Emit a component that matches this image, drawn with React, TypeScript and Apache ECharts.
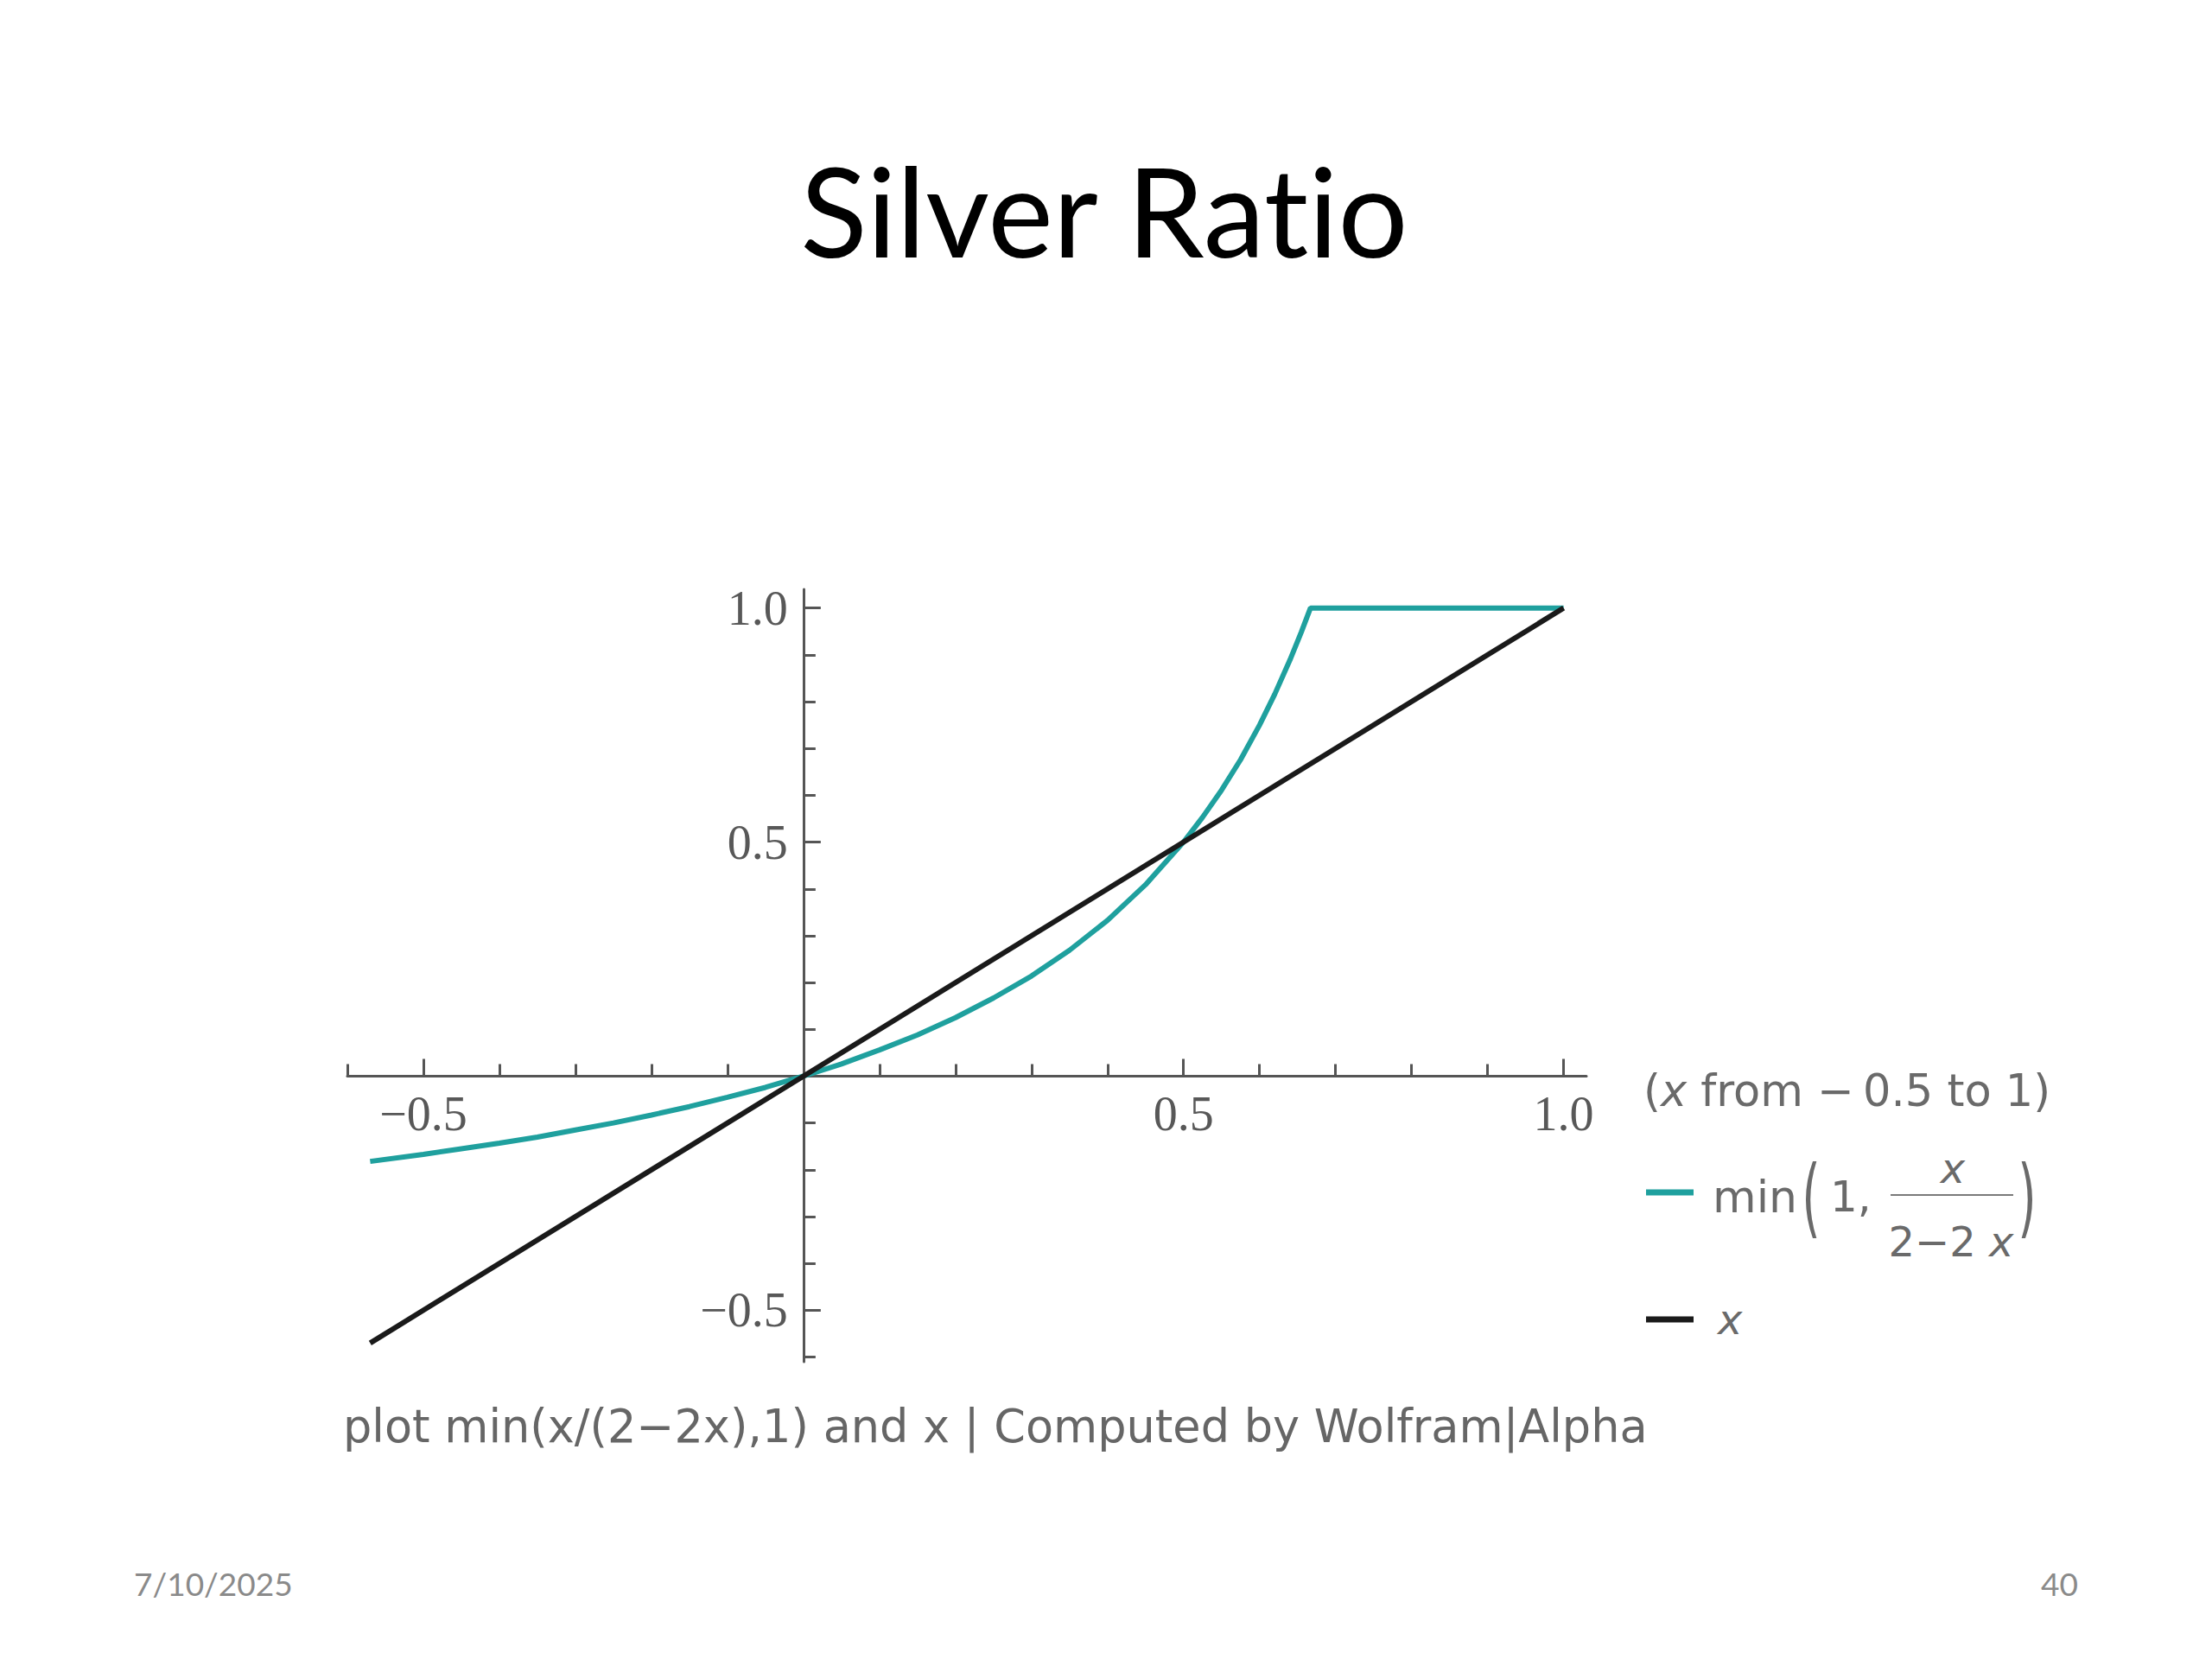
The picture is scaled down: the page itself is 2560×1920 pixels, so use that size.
import React, { useEffect, useRef } from "react";
import * as echarts from "echarts";

// ---- data ----
const TITLE = "Silver Ratio";
const CAPTION = "plot min(x/(2\u22122x),1) and x | Computed by Wolfram|Alpha";
const DATE_TEXT = "7/10/2025";
const PAGE_NO = "40";

const X_MIN = -0.6;
const X_MAX = 1.03;
const Y_MIN = -0.61;
const Y_MAX = 1.04;

const MAJOR_TICKS = [-0.5, 0.5, 1.0];
const MINOR_TICKS_X = [-0.6, -0.4, -0.3, -0.2, -0.1, 0.1, 0.2, 0.3, 0.4, 0.6, 0.7, 0.8, 0.9];
const MINOR_TICKS_Y = [-0.6, -0.4, -0.3, -0.2, -0.1, 0.1, 0.2, 0.3, 0.4, 0.6, 0.7, 0.8, 0.9];

// teal curve: min(1, x/(2-2x))
const CURVE_X = [-0.57, -0.5, -0.45, -0.4, -0.35, -0.3, -0.25, -0.2, -0.15, -0.1, -0.05, 0, 0.05, 0.1, 0.15, 0.2, 0.25, 0.3, 0.35, 0.4, 0.45, 0.5, 0.525, 0.55, 0.575, 0.6, 0.62, 0.64, 0.655, 0.667, 1.0];
const CURVE_Y = [-0.182, -0.167, -0.155, -0.143, -0.130, -0.115, -0.100, -0.083, -0.065, -0.045, -0.024, 0, 0.026, 0.056, 0.088, 0.125, 0.167, 0.214, 0.269, 0.333, 0.409, 0.5, 0.553, 0.611, 0.676, 0.75, 0.816, 0.889, 0.949, 1.0, 1.0];

// black line: x
const LINE_X = [-0.57, 1.0];
const LINE_Y = [-0.57, 1.0];

const TEAL = "#1fa09e";
const BLACK = "#1a1a1a";
const AXIS_GRAY = "#555555";
const TEXT_GRAY = "#6a6a6a";

const fmt = (v: number) => (v < 0 ? "\u2212" : "") + Math.abs(v).toFixed(1);

const LEG_FONT = "DejaVu Sans";

// grid geometry
const GRID_LEFT = 402;
const GRID_TOP = 682;
const GRID_W = 1434;
const GRID_H = 894;

function buildOption(): any {
  const curve = CURVE_X.map((x, i) => [x, CURVE_Y[i]]);
  const line = LINE_X.map((x, i) => [x, LINE_Y[i]]);
  // shift axes so they cross at the origin (labels move with them)
  const yAxisOffset = -(GRID_W * (0 - X_MIN)) / (X_MAX - X_MIN);
  const xAxisOffset = -(GRID_H * (0 - Y_MIN)) / (Y_MAX - Y_MIN);
  const tickLabelStyle = {
    fontFamily: "Liberation Serif",
    fontSize: 56,
    color: "#585858",
  };
  const italic = { fontFamily: LEG_FONT, fontSize: 51, fontStyle: "italic", fill: TEXT_GRAY, color: TEXT_GRAY };
  return {
    animation: false,
    backgroundColor: "#ffffff",
    grid: { left: GRID_LEFT, top: GRID_TOP, width: GRID_W, height: GRID_H, containLabel: false, outerBoundsMode: "none" },
    xAxis: [
      {
        type: "value",
        min: X_MIN,
        max: X_MAX,
        position: "bottom",
        offset: xAxisOffset,
        axisLine: { show: true, onZero: false, lineStyle: { color: AXIS_GRAY, width: 3 } },
        axisTick: { show: true, inside: true, length: 20, customValues: MAJOR_TICKS, lineStyle: { color: AXIS_GRAY, width: 3 } },
        axisLabel: { show: true, customValues: MAJOR_TICKS, formatter: fmt, margin: 16, ...tickLabelStyle },
        splitLine: { show: false },
      },
      {
        type: "value",
        min: X_MIN,
        max: X_MAX,
        position: "bottom",
        offset: xAxisOffset,
        axisLine: { show: false, onZero: false },
        axisTick: { show: true, inside: true, length: 14, customValues: MINOR_TICKS_X, lineStyle: { color: AXIS_GRAY, width: 3 } },
        axisLabel: { show: false },
        splitLine: { show: false },
      },
    ],
    yAxis: [
      {
        type: "value",
        min: Y_MIN,
        max: Y_MAX,
        position: "left",
        offset: yAxisOffset,
        axisLine: { show: true, onZero: false, lineStyle: { color: AXIS_GRAY, width: 3 } },
        axisTick: { show: true, inside: true, length: 20, customValues: MAJOR_TICKS, lineStyle: { color: AXIS_GRAY, width: 3 } },
        axisLabel: { show: true, customValues: MAJOR_TICKS, formatter: fmt, margin: 18, ...tickLabelStyle },
        splitLine: { show: false },
      },
      {
        type: "value",
        min: Y_MIN,
        max: Y_MAX,
        position: "left",
        offset: yAxisOffset,
        axisLine: { show: false, onZero: false },
        axisTick: { show: true, inside: true, length: 14, customValues: MINOR_TICKS_Y, lineStyle: { color: AXIS_GRAY, width: 3 } },
        axisLabel: { show: false },
        splitLine: { show: false },
      },
    ],
    series: [
      {
        type: "line",
        name: "min",
        xAxisIndex: 0,
        yAxisIndex: 0,
        data: curve,
        showSymbol: false,
        symbol: "none",
        lineStyle: { color: TEAL, width: 6 },
        itemStyle: { color: TEAL },
        z: 3,
      },
      {
        type: "line",
        name: "x",
        xAxisIndex: 0,
        yAxisIndex: 0,
        data: line,
        showSymbol: false,
        symbol: "none",
        lineStyle: { color: BLACK, width: 6 },
        itemStyle: { color: BLACK },
        z: 4,
      },
    ],
    graphic: [
      {
        type: "text",
        x: 1278,
        y: 242,
        style: { text: TITLE, font: "143px Lato", fill: "#000", textAlign: "center", textVerticalAlign: "middle" },
      },
      {
        type: "text",
        x: 155,
        y: 1832,
        style: { text: DATE_TEXT, font: "37px Lato", fill: "#8a8a8a", textAlign: "left", textVerticalAlign: "middle" },
      },
      {
        type: "text",
        x: 2405,
        y: 1832,
        style: { text: PAGE_NO, font: "37px Lato", fill: "#8a8a8a", textAlign: "right", textVerticalAlign: "middle" },
      },
      {
        type: "text",
        x: 397,
        y: 1650,
        style: { text: CAPTION, font: "52.5px 'DejaVu Sans'", fill: "#666", textAlign: "left", textVerticalAlign: "middle" },
      },
      // legend header
      {
        type: "text",
        x: 1902,
        y: 1262,
        style: {
          text: "({i|x} from \u2212\u20090.5 to 1)",
          font: "51px 'DejaVu Sans'",
          fill: TEXT_GRAY,
          textAlign: "left",
          textVerticalAlign: "middle",
          rich: { i: { ...italic } },
        },
      },
      // teal legend swatch
      {
        type: "line",
        shape: { x1: 1905, y1: 1380, x2: 1960, y2: 1380 },
        style: { stroke: TEAL, lineWidth: 7 },
      },
      {
        type: "text",
        x: 1982,
        y: 1385,
        style: { text: "min", font: "52px 'DejaVu Sans'", fill: TEXT_GRAY, textAlign: "left", textVerticalAlign: "middle" },
      },
      {
        type: "text",
        x: 2096,
        y: 1385,
        scaleX: 0.55,
        style: { text: "(", font: "100px 'DejaVu Sans'", fill: TEXT_GRAY, textAlign: "center", textVerticalAlign: "middle" },
      },
      {
        type: "text",
        x: 2118,
        y: 1385,
        style: { text: "1,", font: "50px 'DejaVu Sans'", fill: TEXT_GRAY, textAlign: "left", textVerticalAlign: "middle" },
      },
      {
        type: "text",
        x: 2260,
        y: 1352,
        style: { text: "x", font: "italic 48px 'DejaVu Sans'", fill: TEXT_GRAY, textAlign: "center", textVerticalAlign: "middle" },
      },
      {
        type: "line",
        shape: { x1: 2188, y1: 1383, x2: 2330, y2: 1383 },
        style: { stroke: "#7a7a7a", lineWidth: 2 },
      },
      {
        type: "text",
        x: 2258,
        y: 1437,
        style: {
          text: "2\u22122 {i|x}",
          font: "48px 'DejaVu Sans'",
          fill: TEXT_GRAY,
          textAlign: "center",
          textVerticalAlign: "middle",
          rich: { i: { ...italic, fontSize: 48 } },
        },
      },
      {
        type: "text",
        x: 2346,
        y: 1385,
        scaleX: 0.55,
        style: { text: ")", font: "100px 'DejaVu Sans'", fill: TEXT_GRAY, textAlign: "center", textVerticalAlign: "middle" },
      },
      // black legend swatch
      {
        type: "line",
        shape: { x1: 1905, y1: 1527, x2: 1960, y2: 1527 },
        style: { stroke: BLACK, lineWidth: 7 },
      },
      {
        type: "text",
        x: 1988,
        y: 1527,
        style: { text: "x", font: "italic 48px 'DejaVu Sans'", fill: TEXT_GRAY, textAlign: "left", textVerticalAlign: "middle" },
      },
    ],
  };
}

export default function App() {
  const ref = useRef<HTMLDivElement>(null);
  useEffect(() => {
    if (!ref.current) return;
    const chart = echarts.init(ref.current, null, { renderer: "svg" });
    chart.setOption(buildOption());
    return () => {
      chart.dispose();
    };
  }, []);
  return (
    <>
      <style>
        {
          "svg text{font-variant-ligatures:none !important;font-feature-settings:'liga' 0,'clig' 0,'dlig' 0,'calt' 0 !important;}"
        }
      </style>
      <div
        ref={ref}
        style={{ position: "absolute", left: 0, top: 0, width: 2560, height: 1920, background: "#ffffff" }}
      />
    </>
  );
}
